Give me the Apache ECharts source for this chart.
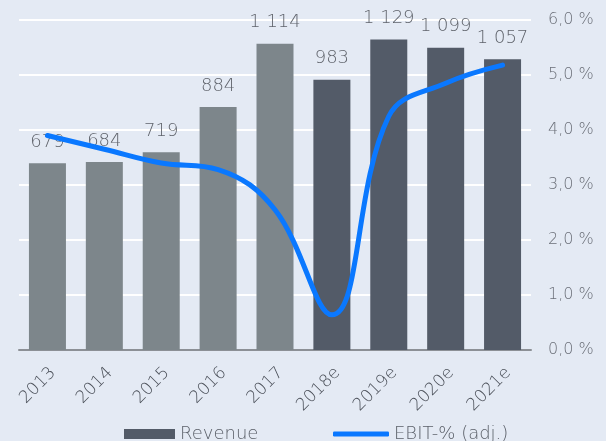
<!DOCTYPE html>
<html><head><meta charset="utf-8">
<script src="https://cdn.jsdelivr.net/npm/echarts@6/dist/echarts.min.js"></script>
<style>html,body{margin:0;padding:0;background:#e4eaf4}#c{width:606px;height:441px}</style>
</head><body><div id="c"></div>
<script>
const categories = ['2013','2014','2015','2016','2017','2018e','2019e','2020e','2021e'];
const revenue = [679, 684, 719, 884, 1114, 983, 1129, 1099, 1057];
const ebitPct = [3.9, 3.65, 3.4, 3.28, 2.55, 0.64, 4.25, 4.85, 5.18];
const forecastFrom = 5;
const rightTicks = [0,1,2,3,4,5,6];

const fmtNum = v => String(v).replace(/\B(?=(\d{3})+(?!\d))/g, ' ');
const chart = echarts.init(document.getElementById('c'));
const font = 'DejaVu Sans';
const fw = 200;
chart.setOption({
  backgroundColor: '#e4eaf4',
  animation: false,
  textStyle: {fontFamily: font, fontWeight: fw},
  grid: {left: 19, right: 75, top: 20, bottom: 91},
  legend: [{
    top: 419, left: 119, itemWidth: 51, itemHeight: 10, itemGap: 6,
    textStyle: {color: '#5a5f68', fontSize: 18, fontFamily: font, fontWeight: fw, lineHeight: 20},
    data: [{name: 'Revenue', icon: 'rect'}]
  }, {
    top: 419, left: 328, itemWidth: 56, itemHeight: 5,
    textStyle: {color: '#5a5f68', fontSize: 18, fontFamily: font, fontWeight: fw, lineHeight: 20},
    data: [{name: 'EBIT-% (adj.)', icon: 'roundRect', itemStyle: {color: '#0a78ff'}}]
  }],
  xAxis: {
    type: 'category', data: categories,
    axisLine: {lineStyle: {color: '#8c9096', width: 2}},
    axisTick: {show: false},
    axisLabel: {rotate: 45, color: '#4a4f58', fontSize: 17, margin: 26, padding: [0, -8, 0, 0],
      fontFamily: font, fontWeight: fw}
  },
  yAxis: [{
    type: 'value', min: 0, max: 1200, interval: 200,
    axisLabel: {show: false}, axisLine: {show: false}, axisTick: {show: false},
    splitLine: {lineStyle: {color: '#ffffff', width: 2}}
  }, {
    type: 'value', min: rightTicks[0], max: rightTicks[rightTicks.length-1], interval: 1,
    position: 'right',
    axisLine: {show: false}, axisTick: {show: false}, splitLine: {show: false},
    axisLabel: {color: '#6b6f78', fontSize: 16, margin: 17, fontFamily: font, fontWeight: fw,
      formatter: v => v.toFixed(1).replace('.', ',') + ' %'}
  }],
  series: [{
    name: 'Revenue', type: 'bar', barWidth: 37,
    itemStyle: {color: '#535b68'},
    data: revenue.map((v, i) => ({value: v, itemStyle: {color: i < forecastFrom ? '#7d868b' : '#535b68'}})),
    label: {show: true, position: 'top', distance: 12, color: '#5f636b', fontSize: 18, fontFamily: font, fontWeight: fw,
      formatter: p => fmtNum(p.value)}
  }, {
    name: 'EBIT-% (adj.)', type: 'line', yAxisIndex: 1, smooth: 0.4,
    symbol: 'none', data: ebitPct,
    lineStyle: {color: '#0a78ff', width: 5, cap: 'round'}, itemStyle: {color: '#0a78ff'}
  }]
});
</script></body></html>
